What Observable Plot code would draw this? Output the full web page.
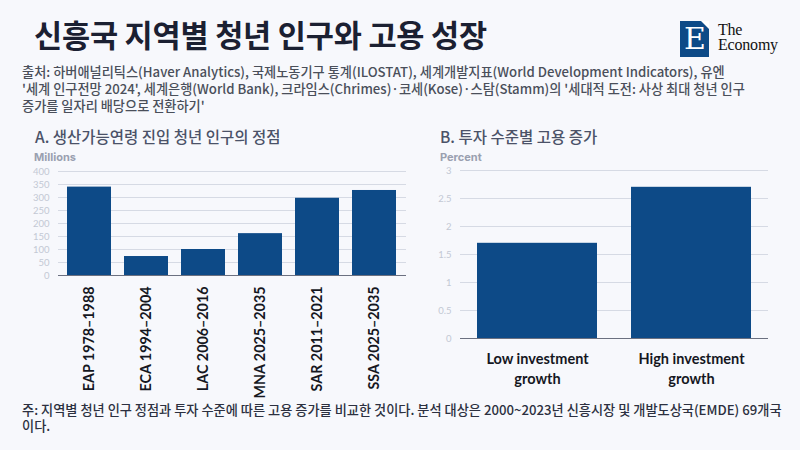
<!DOCTYPE html>
<html><head><meta charset="utf-8">
<script src="https://cdn.jsdelivr.net/npm/d3@7"></script>
<script src="https://cdn.jsdelivr.net/npm/@observablehq/plot@0.6"></script>
<style>
html,body{margin:0;padding:0;}
body{width:800px;height:450px;background:#f7f8fc;font-family:"Noto Sans CJK KR","Noto Sans",sans-serif;position:relative;overflow:hidden;}
.abs{position:absolute;}
#title{left:34px;top:14px;font-size:30.6px;line-height:40px;font-weight:700;color:#1b2032;letter-spacing:-0.2px;}
.src{left:22px;font-size:13.2px;height:17px;line-height:17px;font-weight:500;color:#4a4f5a;white-space:nowrap;}
.ptitle{font-size:15.5px;font-weight:500;color:#4b5268;}
.unit{font-size:11px;font-weight:700;color:#9aa0b0;font-family:"Inter","Noto Sans CJK KR",sans-serif;}
.note{left:22px;font-size:13.2px;height:16px;line-height:16px;font-weight:500;color:#2c3040;white-space:nowrap;}
#logo{left:680px;top:21px;width:29px;height:36px;background:#0d4a87;}
#logoE{left:684px;top:21px;color:#fff;font-family:"DejaVu Serif","Liberation Serif",serif;font-size:30px;line-height:36px;}
.logoTxt{left:718px;font-family:"Liberation Serif","DejaVu Serif",serif;font-size:16px;height:15px;line-height:15px;color:#111;letter-spacing:-0.2px;}
svg{overflow:visible;}
</style></head>
<body>
<div id="title" class="abs">신흥국 지역별 청년 인구와 고용 성장</div>
<div class="abs src" style="top:63px">출처: 하버애널리틱스(Haver Analytics), 국제노동기구 통계(ILOSTAT), 세계개발지표(World Development Indicators), 유엔</div>
<div class="abs src" style="top:80px">'세계 인구전망 2024', 세계은행(World Bank), 크라임스(Chrimes)·코세(Kose)·스탐(Stamm)의 '세대적 도전: 사상 최대 청년 인구</div>
<div class="abs src" style="top:97px">증가를 일자리 배당으로 전환하기'</div>
<div id="logo" class="abs"></div>
<svg class="abs" style="left:700px;top:21px" width="9" height="9"><polygon points="1,0 9,0 9,8" fill="#fff"/></svg>
<div id="logoE" class="abs">E</div>
<div class="abs logoTxt" style="top:22px">The</div>
<div class="abs logoTxt" style="top:37px">Economy</div>
<div class="abs ptitle" style="left:35px;top:125px">A. 생산가능연령 진입 청년 인구의 정점</div>
<div class="abs unit" style="left:34px;top:150px">Millions</div>
<div class="abs ptitle" style="left:440px;top:125px">B. 투자 수준별 고용 증가</div>
<div class="abs unit" style="left:440px;top:150px">Percent</div>
<div id="chartA" class="abs" style="left:20px;top:165px"></div>
<div id="chartB" class="abs" style="left:420px;top:165px"></div>
<div class="abs note" style="top:402px">주: 지역별 청년 인구 정점과 투자 수준에 따른 고용 증가를 비교한 것이다. 분석 대상은 2000~2023년 신흥시장 및 개발도상국(EMDE) 69개국</div>
<div class="abs note" style="top:418px">이다.</div>
<script>
// Panel A data
const regions = ["EAP 1978–1988","ECA 1994–2004","LAC 2006–2016","MNA 2025–2035","SAR 2011–2021","SSA 2025–2035"];
const youthPeak = [340, 73, 100, 161, 297, 327];
const ticksA = [0,50,100,150,200,250,300,350,400];
// Panel B data
const investCats = ["Low investment\ngrowth","High investment\ngrowth"];
const employmentGrowth = [1.7, 2.7];
const ticksB = [0,0.5,1,1.5,2,2.5,3];

const barColor = "#0d4a87";
const gridColor = "#d6dae4";
const tickColor = "#c3c8d4";
const fontFam = "Lato, 'Noto Sans CJK KR', sans-serif";

const dataA = regions.map((r,i)=>({r, v: youthPeak[i]}));
const dataB = investCats.map((c,i)=>({c, v: employmentGrowth[i]}));

const chartA = Plot.plot({
  width: 390, height: 235,
  marginLeft: 38, marginRight: 4, marginTop: 6, marginBottom: 125,
  style: {background: "transparent", fontFamily: fontFam, overflow: "visible"},
  x: {domain: regions, paddingInner: 0.22, paddingOuter: 0.12, label: null},
  y: {domain: [0, 400], label: null},
  marks: [
    Plot.gridY(ticksA, {stroke: gridColor, strokeOpacity: 1, strokeWidth: 1}),
    Plot.axisY(ticksA, {tickSize: 0, tickPadding: 9, fontSize: 9.5, color: tickColor, label: null}),
    Plot.barY(dataA, {x: "r", y: "v", fill: barColor}),
    Plot.ruleY([0], {stroke: "#6b7080", strokeWidth: 1.2}),
    Plot.axisX({tickRotate: -90, tickSize: 0, tickPadding: 11, fontSize: 14.3, fontWeight: "bold", color: "#15171f", label: null})
  ]
});
document.getElementById("chartA").append(chartA);

const chartB = Plot.plot({
  width: 360, height: 235,
  marginLeft: 40, marginRight: 12, marginTop: 5, marginBottom: 62,
  style: {background: "transparent", fontFamily: fontFam, overflow: "visible"},
  x: {domain: investCats, paddingInner: 0.22, paddingOuter: 0.11, label: null},
  y: {domain: [0, 3], label: null},
  marks: [
    Plot.gridY(ticksB, {stroke: gridColor, strokeOpacity: 1, strokeWidth: 1}),
    Plot.axisY(ticksB, {tickSize: 0, tickPadding: 9, fontSize: 9.5, color: tickColor, tickFormat: d => String(d), label: null}),
    Plot.barY(dataB, {x: "c", y: "v", fill: barColor}),
    Plot.ruleY([0], {stroke: "#6b7080", strokeWidth: 1.2}),
    Plot.axisX({tickSize: 0, tickPadding: 12, fontSize: 14.5, fontWeight: "bold", color: "#15171f", lineHeight: 1.35, label: null})
  ]
});
document.getElementById("chartB").append(chartB);
</script>
</body></html>
